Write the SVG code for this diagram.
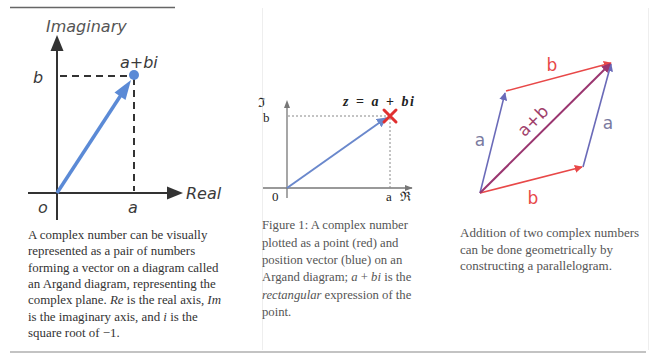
<svg xmlns="http://www.w3.org/2000/svg" width="651" height="358" viewBox="0 0 651 358">
<style>
.hand{font-family:"DejaVu Sans","Liberation Sans",sans-serif;font-style:italic;fill:#3a3a3a;font-size:16px}
.cap{font-family:"Liberation Serif",serif;font-size:12.9px;fill:#333}
.capg{font-family:"Liberation Serif",serif;font-size:12.7px;fill:#555}
.it{font-style:italic}
.math{font-family:"Liberation Serif",serif;fill:#222}
.ax{stroke:#333;stroke-width:2;fill:none}
.dash{stroke:#333;stroke-width:2;stroke-dasharray:7 5;fill:none}
.ax2{stroke:#777;stroke-width:1.3;fill:none}
.dot{stroke:#888;stroke-width:1;stroke-dasharray:2 2;fill:none}
.pa{stroke:#6a6ab8;stroke-width:1.6;fill:none}
.pb{stroke:#e84848;stroke-width:1.6;fill:none}
.pc{stroke:#9a3670;stroke-width:2;fill:none}
.lbl{font-family:"DejaVu Sans","Liberation Sans",sans-serif;font-size:17px}
</style>
<defs>
<marker id="ha" viewBox="0 0 10 10" refX="9" refY="5" markerWidth="5" markerHeight="5" orient="auto"><path d="M0,0 L10,5 L0,10 z" fill="#6a6ab8"/></marker>
<marker id="hb" viewBox="0 0 10 10" refX="9" refY="5" markerWidth="5" markerHeight="5" orient="auto"><path d="M0,0 L10,5 L0,10 z" fill="#e84848"/></marker>
<marker id="hc" viewBox="0 0 10 10" refX="9" refY="5" markerWidth="4.5" markerHeight="4.5" orient="auto"><path d="M0,0 L10,5 L0,10 z" fill="#9a3670"/></marker>
<marker id="hm" viewBox="0 0 10 10" refX="9" refY="5" markerWidth="6" markerHeight="6" orient="auto"><path d="M0,1 L10,5 L0,9 z" fill="#777"/></marker>
<marker id="hv" viewBox="0 0 10 10" refX="9" refY="5" markerWidth="5" markerHeight="5" orient="auto"><path d="M0,0 L10,5 L0,10 z" fill="#6a88cc"/></marker>
</defs>
<rect width="651" height="358" fill="#fff"/>
<line x1="10" y1="7.5" x2="175" y2="7.5" stroke="#666" stroke-width="1.5"/>
<line x1="10" y1="352" x2="646" y2="352" stroke="#888" stroke-width="1.2"/>
<line x1="262.5" y1="8" x2="262.5" y2="350" stroke="#eee" stroke-width="1"/>
<line x1="648.5" y1="8" x2="648.5" y2="350" stroke="#eee" stroke-width="1"/>

<g id="panel1">
<line class="ax" x1="57" y1="48" x2="57" y2="220"/>
<path d="M57,35 L63.5,51 L50.5,51 z" fill="#333"/>
<line class="ax" x1="28" y1="193" x2="168" y2="193"/>
<path d="M183,193 L167,186.5 L167,199.5 z" fill="#333"/>
<line class="dash" x1="60" y1="76" x2="132" y2="76"/>
<line class="dash" x1="134" y1="78" x2="134" y2="191"/>
<line x1="57" y1="193" x2="121" y2="95" stroke="#5b8ad6" stroke-width="3.5"/>
<path d="M131,80 L125.5,100 L114.5,92.5 z" fill="#5b8ad6"/>
<circle cx="134" cy="75" r="5" fill="#5b8ad6"/>
<text class="hand" x="46" y="32" style="fill:#555">Imaginary</text>
<text class="hand" x="120" y="68">a+bi</text>
<text class="hand" x="33" y="83">b</text>
<text class="hand" x="186" y="199">Real</text>
<text class="hand" x="38" y="213">o</text>
<text class="hand" x="128" y="213">a</text>
<text class="cap" x="28" y="239">A complex number can be visually</text>
<text class="cap" x="28" y="255">represented as a pair of numbers</text>
<text class="cap" x="28" y="271.5">forming a vector on a diagram called</text>
<text class="cap" x="28" y="288">an Argand diagram, representing the</text>
<text class="cap" x="28" y="304">complex plane. <tspan class="it">Re</tspan> is the real axis, <tspan class="it">Im</tspan></text>
<text class="cap" x="28" y="320.5">is the imaginary axis, and <tspan class="it">i</tspan> is the</text>
<text class="cap" x="28" y="337">square root of −1.</text>
</g>

<g id="panel2">
<line class="ax2" x1="287" y1="104" x2="287" y2="198"/>
<line class="ax2" x1="263" y1="188" x2="412" y2="188" marker-end="url(#hm)"/>
<path d="M287,100 L290,108 L284,108 z" fill="#777"/>
<line class="dot" x1="288" y1="116" x2="388" y2="116"/>
<line class="dot" x1="390" y1="118" x2="390" y2="188"/>
<line x1="287" y1="188" x2="386" y2="118" stroke="#6a88cc" stroke-width="2" marker-end="url(#hv)"/>
<path d="M384,110 L396,122 M396,110 L384,122" stroke="#e03030" stroke-width="3" stroke-linecap="round"/>
<text class="math" x="343" y="106" font-size="14" font-weight="bold" letter-spacing="1.5" word-spacing="1"><tspan class="it">z</tspan> = <tspan class="it">a</tspan> + <tspan class="it">bi</tspan></text>
<text class="math" x="258" y="107" font-size="13">ℑ</text>
<text class="math" x="263" y="122" font-size="13">b</text>
<text class="math" x="272" y="201" font-size="13">0</text>
<text class="math" x="386" y="201" font-size="13">a</text>
<text class="math" x="400" y="201" font-size="13">ℜ</text>
<text class="capg" x="262" y="229">Figure 1: A complex number</text>
<text class="capg" x="262" y="247">plotted as a point (red) and</text>
<text class="capg" x="262" y="264">position vector (blue) on an</text>
<text class="capg" x="262" y="281">Argand diagram; <tspan class="it">a</tspan> + <tspan class="it">bi</tspan> is the</text>
<text class="capg" x="262" y="299"><tspan class="it">rectangular</tspan> expression of the</text>
<text class="capg" x="262" y="316">point.</text>
</g>

<g id="connectors">
<line class="pa" x1="480" y1="193" x2="505" y2="93" marker-end="url(#ha)"/>
<line class="pa" x1="583" y1="167" x2="611" y2="64" marker-end="url(#ha)"/>
<line class="pb" x1="480" y1="193" x2="582" y2="167" marker-end="url(#hb)"/>
<line class="pb" x1="506" y1="91" x2="611" y2="63" marker-end="url(#hb)"/>
<line class="pc" x1="480" y1="193" x2="610" y2="64" marker-end="url(#hc)"/>
</g>
<g id="panel3">
<text class="lbl" x="552" y="71" fill="#e84848" text-anchor="middle">b</text>
<text class="lbl" x="480" y="146" fill="#7a7aa0" text-anchor="middle">a</text>
<text class="lbl" x="608" y="129" fill="#7a7aa0" text-anchor="middle">a</text>
<text class="lbl" x="533" y="204" fill="#e84848" text-anchor="middle">b</text>
<text class="lbl" x="0" y="0" fill="#a0406a" font-size="15" text-anchor="middle" transform="translate(537,125) rotate(-45)">a+b</text>
<text class="capg" x="460" y="237" style="font-size:13px">Addition of two complex numbers</text>
<text class="capg" x="460" y="254" style="font-size:13px">can be done geometrically by</text>
<text class="capg" x="460" y="270" style="font-size:13px">constructing a parallelogram.</text>
</g>
</svg>
